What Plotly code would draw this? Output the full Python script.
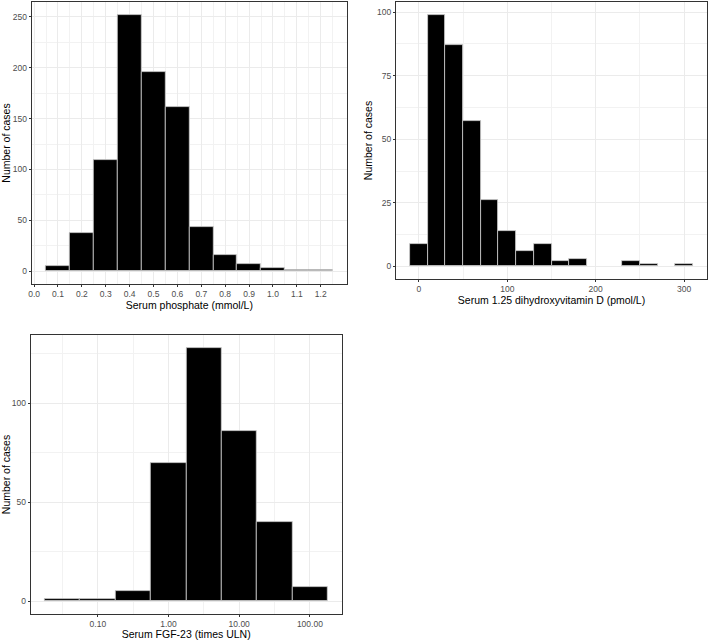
import numpy as np
import plotly.graph_objects as go

# ---- Data ----
phos_centers = [0.1, 0.2, 0.3, 0.4, 0.5, 0.6, 0.7, 0.8, 0.9, 1.0, 1.1, 1.2]
phos_counts = [5, 38, 109, 252, 196, 161, 43, 16, 7, 3, 1, 1]

vitd_centers = [0, 20, 40, 60, 80, 100, 120, 140, 160, 180, 240, 260, 300]
vitd_counts = [9, 99, 87, 57, 26, 14, 6, 9, 2, 3, 2, 1, 1]

fgf_centers = [0.0316, 0.1, 0.316, 1.0, 3.16, 10.0, 31.6, 100.0]
fgf_counts = [1, 1, 5, 70, 128, 86, 40, 7]

phos_ticks = [0.0, 0.1, 0.2, 0.3, 0.4, 0.5, 0.6, 0.7, 0.8, 0.9, 1.0, 1.1, 1.2]
phos_ticklabels = ["0.0", "0.1", "0.2", "0.3", "0.4", "0.5", "0.6", "0.7", "0.8", "0.9", "1.0", "1.1", "1.2"]
fgf_ticks = [0.1, 1.0, 10.0, 100.0]
fgf_ticklabels = ["0.10", "1.00", "10.00", "100.00"]

Y_TITLE = "Number of cases"

FONT = "Liberation Sans, Arial, sans-serif"
GRID = "#ebebeb"
MINOR = "#f2f2f2"
BORDER = "#333333"
TICKC = "#4d4d4d"
BAR_LINE = "#cfcfcf"

W, H = 708, 640

fig = go.Figure()

fig.add_trace(go.Bar(x=phos_centers, y=phos_counts, width=0.1,
                     marker=dict(color="black", line=dict(color=BAR_LINE, width=0.8)),
                     xaxis="x", yaxis="y", showlegend=False))
fig.add_trace(go.Bar(x=vitd_centers, y=vitd_counts, width=20,
                     marker=dict(color="black", line=dict(color=BAR_LINE, width=0.8)),
                     xaxis="x2", yaxis="y2", showlegend=False))
fgf_log = np.round(np.log10(fgf_centers) * 2) / 2
fig.add_trace(go.Bar(x=fgf_log, y=fgf_counts, width=0.5,
                     marker=dict(color="black", line=dict(color=BAR_LINE, width=0.8)),
                     xaxis="x3", yaxis="y3", showlegend=False))


def px_dom_x(a, b):
    return [a / W, b / W]


def px_dom_y(top, bottom):
    return [1 - bottom / H, 1 - top / H]


def ax_common(minor_vals, **kw):
    d = dict(
        automargin=False,
        showline=True, mirror=True, linecolor=BORDER, linewidth=1,
        showgrid=True, gridcolor=GRID, gridwidth=1,
        zeroline=False,
        ticks="outside", ticklen=2, tickwidth=1, tickcolor=BORDER,
        tickfont=dict(size=8.5, color=TICKC, family=FONT),
        title_font=dict(size=10.5, color="black", family=FONT),
        minor=dict(showgrid=True, gridcolor=MINOR, gridwidth=0.5, ticks="",
                   tickvals=minor_vals),
    )
    d.update(kw)
    return d


layout = dict(
    width=W, height=H,
    margin=dict(l=0, r=0, t=0, b=0),
    paper_bgcolor="white", plot_bgcolor="white",
    font=dict(family=FONT),
    bargap=0,
    showlegend=False,
)

# Panel 1
layout["xaxis"] = ax_common([0.05 + 0.1 * i for i in range(13)],
                            domain=px_dom_x(31.7, 347), range=[-0.01, 1.31],
                            tickvals=phos_ticks, ticktext=phos_ticklabels,
                            title=dict(text="Serum phosphate (mmol/L)", standoff=2),
                            anchor="y")
layout["yaxis"] = ax_common([25, 75, 125, 175, 225],
                            domain=px_dom_y(2, 284), range=[-12.6, 264.6],
                            tickvals=[0, 50, 100, 150, 200, 250],
                            title=dict(text=Y_TITLE, standoff=2),
                            anchor="x")
# Panel 2
layout["xaxis2"] = ax_common([-50, 50, 150, 250],
                             domain=px_dom_x(396, 707), range=[-26, 326],
                             tickvals=[0, 100, 200, 300],
                             title=dict(text="Serum 1.25 dihydroxyvitamin D (pmol/L)", standoff=2),
                             anchor="y2")
layout["yaxis2"] = ax_common([12.5, 37.5, 62.5, 87.5],
                             domain=px_dom_y(2, 279), range=[-4.95, 103.95],
                             tickvals=[0, 25, 50, 75, 100],
                             title=dict(text=Y_TITLE, standoff=2),
                             anchor="x2")
# Panel 3
layout["xaxis3"] = ax_common([-1.5, -0.5, 0.5, 1.5],
                             domain=px_dom_x(30.7, 341.7), range=[-1.95, 2.45],
                             tickvals=list(np.log10(fgf_ticks)), ticktext=fgf_ticklabels,
                             title=dict(text="Serum FGF-23 (times ULN)", standoff=2),
                             anchor="y3")
layout["yaxis3"] = ax_common([25, 75, 125],
                             domain=px_dom_y(335, 614), range=[-6.4, 134.4],
                             tickvals=[0, 50, 100],
                             title=dict(text=Y_TITLE, standoff=2),
                             anchor="x3")

fig.update_layout(**layout)
fig.write_html(
    "out.html",
    config={"displayModeBar": False},
    post_script="document.body.style.margin='0';document.body.style.padding='0';"
                "document.documentElement.style.overflow='hidden';",
)
